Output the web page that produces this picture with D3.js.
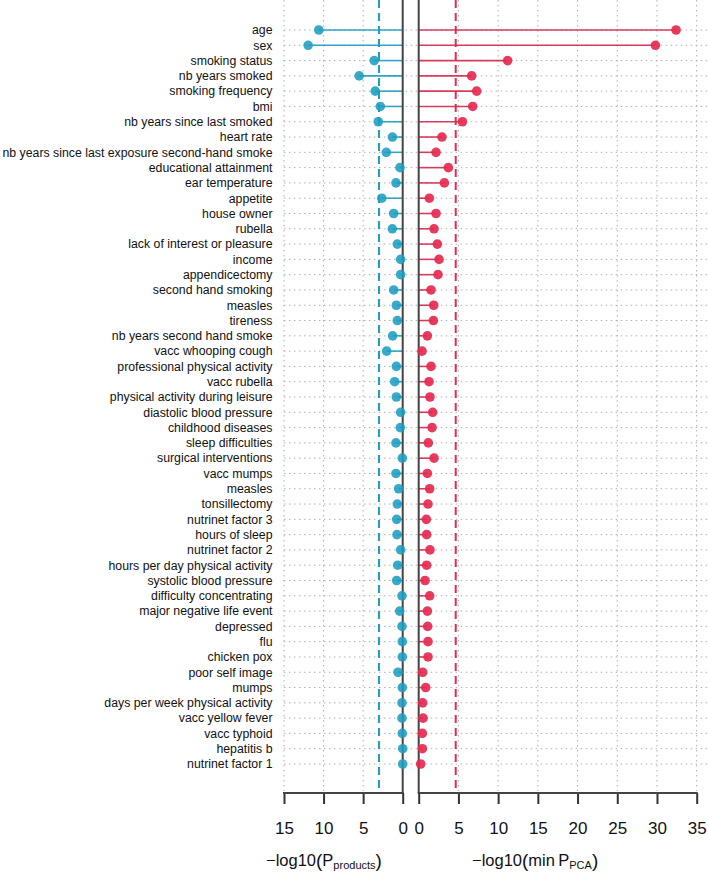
<!DOCTYPE html>
<html>
<head>
<meta charset="utf-8">
<script src="https://cdn.jsdelivr.net/npm/d3@7"></script>
<style>
  html, body { margin: 0; padding: 0; background: #fff; }
  svg { display: block; font-family: "Liberation Sans", Arial, sans-serif; }
</style>
</head>
<body>
<svg id="chart" width="708" height="873"></svg>
<script>
const categories = [
  "age", "sex", "smoking status", "nb years smoked", "smoking frequency", "bmi",
  "nb years since last smoked", "heart rate", "nb years since last exposure second-hand smoke",
  "educational attainment", "ear temperature", "appetite", "house owner", "rubella",
  "lack of interest or pleasure", "income", "appendicectomy", "second hand smoking",
  "measles", "tireness", "nb years second hand smoke", "vacc whooping cough",
  "professional physical activity", "vacc rubella", "physical activity during leisure",
  "diastolic blood pressure", "childhood diseases", "sleep difficulties",
  "surgical interventions", "vacc mumps", "measles", "tonsillectomy", "nutrinet factor 3",
  "hours of sleep", "nutrinet factor 2", "hours per day physical activity",
  "systolic blood pressure", "difficulty concentrating", "major negative life event",
  "depressed", "flu", "chicken pox", "poor self image", "mumps",
  "days per week physical activity", "vacc yellow fever", "vacc typhoid", "hepatitis b",
  "nutrinet factor 1"
];
// -log10(P_products)
const productsValues = [
  10.6, 11.95, 3.6, 5.5, 3.47, 2.83, 3.09, 1.3, 2.07, 0.34, 0.85, 2.64, 1.14, 1.31,
  0.68, 0.26, 0.26, 1.14, 0.8, 0.68, 1.27, 2.03, 0.8, 1.01, 0.8, 0.26, 0.3, 0.85,
  0.05, 0.85, 0.51, 0.68, 0.76, 0.72, 0.26, 0.63, 0.76, 0.09, 0.38, 0.09, 0.05, 0.05,
  0.59, 0.05, 0.09, 0.09, 0.05, 0.0, 0.0
];
// -log10(min P_PCA)
const pcaValues = [
  32.4, 29.8, 11.2, 6.67, 7.3, 6.8, 5.5, 2.93, 2.18, 3.73, 3.23, 1.34, 2.18, 1.93,
  2.35, 2.56, 2.43, 1.55, 1.89, 1.85, 1.09, 0.42, 1.55, 1.3, 1.42, 1.76, 1.68, 1.21,
  1.93, 1.09, 1.38, 1.17, 0.96, 1.0, 1.42, 1.0, 0.8, 1.38, 1.09, 1.13, 1.17, 1.17,
  0.5, 0.88, 0.5, 0.55, 0.46, 0.46, 0.25
];
const leftTicks = [15, 10, 5, 0];
const rightTicks = [0, 5, 10, 15, 20, 25, 30, 35];
const thresholdProducts = 3.0;
const thresholdPCA = 4.66;

const blue = "#1c9dc0";
const red = "#e6294f";

const svg = d3.select("#chart");

const xL = d3.scaleLinear().domain([0, 15]).range([402.7, 284]);
const xR = d3.scaleLinear().domain([0, 35]).range([418.7, 696.7]);
const y = d3.scalePoint().domain(d3.range(categories.length)).range([30, 764]);

const axisY = 793;
const topY = 0;

// vertical grid (dotted)
const grid = svg.append("g").attr("stroke", "#b0b0b0").attr("stroke-width", 1).attr("stroke-dasharray", "1.5,3.5");
leftTicks.filter(d => d !== 0).forEach(t => {
  grid.append("line").attr("x1", xL(t)).attr("x2", xL(t)).attr("y1", topY).attr("y2", axisY - 2);
});
rightTicks.filter(d => d !== 0).forEach(t => {
  grid.append("line").attr("x1", xR(t)).attr("x2", xR(t)).attr("y1", topY).attr("y2", axisY - 2);
});
// horizontal grid per row
categories.forEach((c, i) => {
  grid.append("line").attr("x1", xL(15)).attr("x2", xL(0)).attr("y1", y(i)).attr("y2", y(i));
  grid.append("line").attr("x1", xL(0) + 3).attr("x2", 708).attr("y1", y(i)).attr("y2", y(i));
});

// threshold dashed lines
svg.append("line").attr("x1", xL(thresholdProducts)).attr("x2", xL(thresholdProducts))
  .attr("y1", topY).attr("y2", axisY).attr("stroke", blue).attr("stroke-width", 2)
  .attr("stroke-dasharray", "8,5");
svg.append("line").attr("x1", xR(thresholdPCA)).attr("x2", xR(thresholdPCA))
  .attr("y1", topY).attr("y2", axisY).attr("stroke", red).attr("stroke-width", 2)
  .attr("stroke-dasharray", "8,5");

// stems
svg.append("g").selectAll("line").data(productsValues).join("line")
  .attr("x1", xL(0)).attr("x2", d => xL(d))
  .attr("y1", (d, i) => y(i)).attr("y2", (d, i) => y(i))
  .attr("stroke", blue).attr("stroke-width", 1.6).attr("opacity", 0.9);
svg.append("g").selectAll("line").data(pcaValues).join("line")
  .attr("x1", xR(0)).attr("x2", d => xR(d))
  .attr("y1", (d, i) => y(i)).attr("y2", (d, i) => y(i))
  .attr("stroke", "#d42a4c").attr("stroke-width", 1.6).attr("opacity", 0.9);

// zero lines
svg.append("line").attr("x1", xL(0)).attr("x2", xL(0)).attr("y1", topY).attr("y2", axisY)
  .attr("stroke", "#444").attr("stroke-width", 2);
svg.append("line").attr("x1", xR(0)).attr("x2", xR(0)).attr("y1", topY).attr("y2", axisY)
  .attr("stroke", "#444").attr("stroke-width", 2);

// dots
svg.append("g").selectAll("circle").data(productsValues).join("circle")
  .attr("cx", d => xL(d)).attr("cy", (d, i) => y(i)).attr("r", 4.8)
  .attr("fill", blue).attr("fill-opacity", 0.88);
svg.append("g").selectAll("circle").data(pcaValues).join("circle")
  .attr("cx", d => xR(d)).attr("cy", (d, i) => y(i)).attr("r", 4.8)
  .attr("fill", red).attr("fill-opacity", 0.92);

// category labels
svg.append("g").selectAll("text").data(categories).join("text")
  .attr("x", 272.5).attr("y", (d, i) => y(i)).attr("dy", "0.35em")
  .attr("text-anchor", "end").attr("font-size", 12.3).attr("fill", "#111")
  .text(d => d);

// axes
const axL = d3.axisBottom(xL).tickValues(leftTicks).tickSize(11).tickPadding(18).tickFormat(d3.format("d"));
const axR = d3.axisBottom(xR).tickValues(rightTicks).tickSize(11).tickPadding(18).tickFormat(d3.format("d"));
[axL, axR].forEach(ax => {
  const g = svg.append("g").attr("transform", `translate(0,${axisY})`).call(ax);
  g.select(".domain").remove();
  g.selectAll(".tick line").attr("stroke", "#333").attr("stroke-width", 2);
  g.selectAll(".tick text").attr("font-size", 17).attr("fill", "#111")
    .attr("font-family", "'Liberation Sans', Arial, sans-serif");
});
svg.append("line").attr("x1", xL(15) - 1).attr("x2", xL(0) + 1).attr("y1", axisY).attr("y2", axisY)
  .attr("stroke", "#444").attr("stroke-width", 2);
svg.append("line").attr("x1", xR(0) - 1).attr("x2", xR(35) + 1).attr("y1", axisY).attr("y2", axisY)
  .attr("stroke", "#444").attr("stroke-width", 2);

// axis titles
function title(x) {
  const t = svg.append("text").attr("x", x).attr("y", 866).attr("font-size", 16.5).attr("fill", "#111");
  t.append("tspan").text("\u2212log10");
  t.append("tspan").attr("font-size", 19).attr("dy", 1).text("(");
  return t;
}
const t1 = title(266);
t1.append("tspan").attr("dy", -1).text("P");
t1.append("tspan").attr("font-size", 11).attr("dy", 3).text("products");
t1.append("tspan").attr("font-size", 19).attr("dy", -2).text(")");

const t2 = title(472);
t2.append("tspan").attr("dy", -1).text("min\u2009P");
t2.append("tspan").attr("font-size", 11).attr("dy", 3).text("PCA");
t2.append("tspan").attr("font-size", 19).attr("dy", -2).text(")");
</script>
</body>
</html>
